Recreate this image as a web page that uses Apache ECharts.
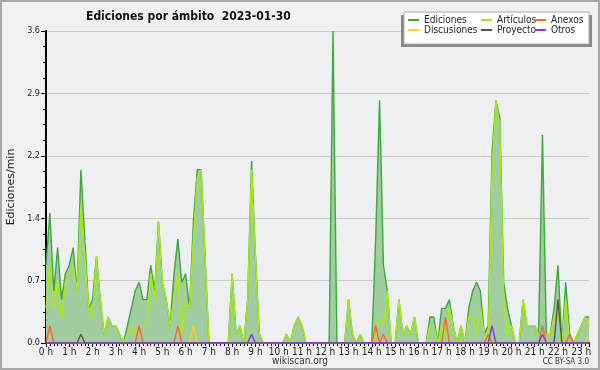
<!DOCTYPE html>
<html><head><meta charset="utf-8">
<script src="https://cdn.jsdelivr.net/npm/echarts@6/dist/echarts.min.js"></script>
<style>
html,body{margin:0;padding:0;background:#f0f0f0;}
#c{width:600px;height:370px;position:relative;}
#frame{position:absolute;left:0;top:0;width:600px;height:370px;box-sizing:border-box;border:2px solid #a9a9a9;pointer-events:none;}
</style></head>
<body>
<div style="position:relative;width:600px;height:370px">
<div id="c"></div><div id="frame"></div>
</div>
<script>
// 10-minute bins, values in edits per minute
const stepMinutes = 10;
const hourLabels = ['0','1','2','3','4','5','6','7','8','9','10','11','12','13','14','15','16','17','18','19','20','21','22','23'];
const ediciones = [0.9,1.5,0.6,1.1,0.5,0.8,0.9,1.1,0.6,2.0,
1.2,0.4,0.5,1.0,0.5,0.1,0.3,0.2,0.2,0.1,
0,0.2,0.4,0.6,0.7,0.5,0.5,0.9,0.6,1.4,
0.7,0.5,0.2,0.8,1.2,0.7,0.8,0.4,1.4,2.0,
2.0,1.0,0,0,0,0,0,0,0.8,0.1,
0.2,0,0.5,2.1,1.0,0.1,0,0,0,0,
0,0,0.1,0,0.2,0.3,0.2,0,0,0,
0,0,0,0,3.6,0,0,0,0.5,0.1,
0,0.1,0,0,0,1.2,2.8,0.9,0.6,0,
0,0.5,0.1,0.2,0.1,0.3,0,0,0,0.3,
0.3,0,0.4,0.4,0.5,0.2,0,0.2,0,0.4,
0.6,0.7,0.6,0.1,0.2,2.2,2.8,2.6,0.7,0.4,
0.2,0,0,0.5,0.2,0.2,0.2,0.1,2.4,0.1,
0.1,0.4,0.9,0,0.7,0.1,0,0.1,0.2,0.3,
0.3];
const articulos = [0.4,0.9,0.4,0.7,0.3,0.7,0.8,0.9,0.6,1.6,
1.0,0.4,0.3,1.0,0.5,0.1,0.3,0.2,0.2,0.1,
0,0.1,0.2,0.1,0.2,0.2,0.2,0.8,0.5,1.4,
0.7,0.5,0.2,0.5,0.8,0.1,0.5,0.4,1.2,1.9,
2.0,1.0,0,0,0,0,0,0,0.8,0.1,
0.2,0,0.5,2.0,1.0,0.1,0,0,0,0,
0,0,0.1,0,0.2,0.3,0.2,0,0,0,
0,0,0,0,0,0,0,0,0.5,0.1,
0,0.1,0,0,0,0.1,0.3,0.2,0.6,0,
0,0.5,0.1,0.2,0.1,0.3,0,0,0,0.2,
0.2,0,0.2,0.1,0.4,0.2,0,0.2,0,0.3,
0.3,0.1,0.4,0.1,0,2.0,2.8,2.5,0.5,0.1,
0.2,0,0,0.5,0.2,0.2,0.2,0.1,0.1,0.1,
0.1,0.3,0.4,0,0.5,0,0,0.1,0.2,0.3,
0.2];
// sparse series: [bin index, value]; all other bins are 0
const anexos = [[1,0.2],[24,0.2],[34,0.2],[85,0.2],[87,0.1],[103,0.3],[114,0.1],[128,0.2],[135,0.1]];
const discusiones = [[38,0.2],[140,0.1]];
const proyecto = [[9,0.1],[132,0.5]];
const otros = [[53,0.1],[115,0.2],[128,0.1]];
const yTicks = [0, 0.72, 1.44, 2.16, 2.88, 3.6];

const nBins = ediciones.length;
const hx = i => i * stepMinutes / 60;
function dense(arr){ return arr.map((v,i)=>[hx(i), v]); }
function expand(pairs){
  const out = new Array(nBins).fill(0);
  pairs.forEach(p => { out[p[0]] = p[1]; });
  return dense(out);
}
const FONT = "'DejaVu Sans Condensed','DejaVu Sans',sans-serif";
const chart = echarts.init(document.getElementById('c'), null, {renderer:'canvas'});
const mkLine = (name, color, data, z, extra) => Object.assign({
  name, type:'line', data, symbol:'none', showSymbol:false, z,
  lineStyle:{color, width:1.4}, itemStyle:{color}, animation:false
}, extra||{});
const legendBase = {orient:'vertical', top:15, itemWidth:11, itemHeight:2, itemGap:0, icon:'rect',
  textStyle:{fontFamily:FONT, fontSize:10, color:'#222', lineHeight:10, padding:[0,0,0,0]}, padding:0, selectedMode:false};
chart.setOption({
  backgroundColor:'#f0f0f0',
  animation:false,
  title:{text:'Ediciones por ámbito  2023-01-30', left:81, top:6,
    textStyle:{fontFamily:FONT, fontWeight:'bold', fontSize:12, color:'#111'}},
  grid:{left:46, right:11, top:31, bottom:27, show:true, backgroundColor:'#eeeff1', borderWidth:0,
    containLabel:false, outerBoundsMode:'none'},
  graphic:[
    {type:'rect', shape:{x:401, y:15, width:191, height:32}, style:{fill:'#888'}, z:10},
    {type:'rect', shape:{x:404, y:12, width:185, height:32}, style:{fill:'#fff', stroke:'#aaa', lineWidth:1}, z:11},
    {type:'text', left:'center', top:356, style:{text:'wikiscan.org', fontFamily:FONT, fontSize:10, fill:'#333'}, z:20},
    {type:'text', right:11, top:358, style:{text:'CC BY-SA 3.0', fontFamily:FONT, fontSize:8, fill:'#333'}, z:20}
  ],
  legend:[
    Object.assign({}, legendBase, {left:408, data:['Ediciones','Discusiones'], z:20}),
    Object.assign({}, legendBase, {left:481, data:['Artículos','Proyecto'], z:20}),
    Object.assign({}, legendBase, {left:535, data:['Anexos','Otros'], z:20})
  ],
  xAxis:{type:'value', min:0, max:hx(nBins-1), interval:1,
    axisLine:{lineStyle:{color:'#000', width:2}},
    axisTick:{length:4, lineStyle:{color:'#000'}},
    minorTick:{show:true, splitNumber:6, length:3, lineStyle:{color:'#000'}},
    splitLine:{show:false},
    axisLabel:{fontFamily:FONT, fontSize:10, color:'#222', margin:4, showMaxLabel:false,
      formatter:v => { const k = Math.round(v); return (Math.abs(v-k)<1e-6 && hourLabels[k]!==undefined) ? hourLabels[k]+' h' : ''; }}},
  yAxis:{type:'value', min:yTicks[0], max:yTicks[yTicks.length-1], interval:yTicks[1]-yTicks[0],
    name:'Ediciones/min', nameLocation:'middle', nameGap:29,
    nameTextStyle:{fontFamily:"'DejaVu Sans',sans-serif", fontSize:11, color:'#222'},
    axisLine:{show:true, lineStyle:{color:'#000', width:2}},
    axisTick:{show:true, length:5, lineStyle:{color:'#000'}},
    minorTick:{show:true, splitNumber:4, length:3, lineStyle:{color:'#000'}},
    splitLine:{lineStyle:{color:'#cccccc', width:1}},
    axisLabel:{fontFamily:FONT, fontSize:9, color:'#222', margin:6, formatter:v => v.toFixed(1)}},
  series:[
    mkLine('Ediciones', '#3aaa3a', dense(ediciones), 2, {areaStyle:{color:'#a0cca0', opacity:1}}),
    mkLine('Artículos', '#aaea10', dense(articulos), 3),
    mkLine('Anexos', '#ff6622', expand(anexos), 4),
    mkLine('Discusiones', '#ffcc22', expand(discusiones), 4),
    mkLine('Proyecto', '#555555', expand(proyecto), 4),
    mkLine('Otros', '#8833ee', expand(otros), 4)
  ]
});
</script>
</body></html>
